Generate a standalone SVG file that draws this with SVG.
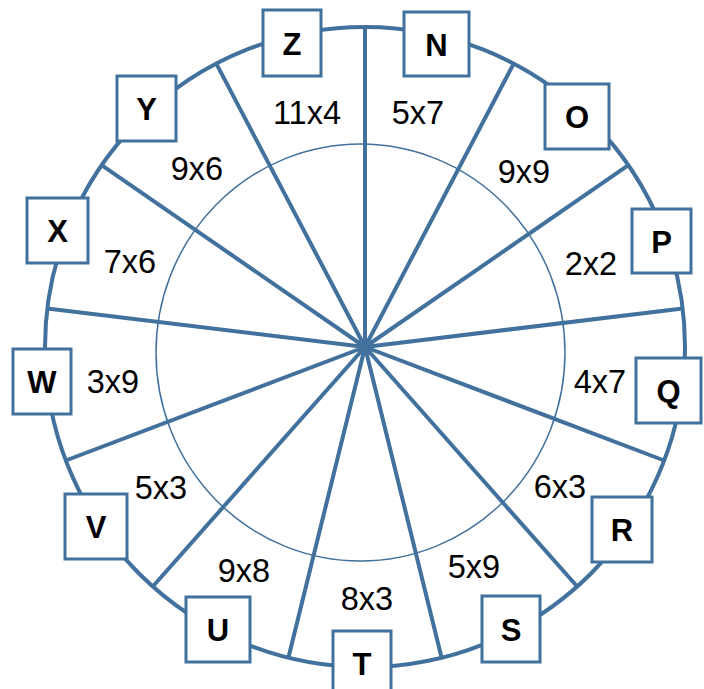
<svg xmlns="http://www.w3.org/2000/svg" width="704" height="689" viewBox="0 0 704 689">
<style>
.ln{stroke:#41719c;fill:none;stroke-linecap:butt}
.outer{stroke-width:4}
.spoke{stroke-width:4}
.inner{stroke-width:1.5}
.box{fill:#fff;stroke:#41719c;stroke-width:3}
.bl{font-family:"Liberation Sans",Arial,sans-serif;font-weight:bold;font-size:31px;fill:#000;text-anchor:middle}
.sl{font-family:"Liberation Sans",Arial,sans-serif;font-size:32.5px;fill:#000;text-anchor:middle}
</style>
<rect width="704" height="689" fill="#fff"/>
<g id="connectors">
<circle class="ln outer" cx="365" cy="347" r="320"/>
<ellipse class="ln inner" cx="360.5" cy="352.5" rx="204.5" ry="208.5"/>
<path class="ln spoke" d="M365,347L365,27M365,347L513.7,63.6M365,347L628.4,165.2M365,347L682.7,308.4M365,347L664.2,460.5M365,347L577.2,586.5M365,347L441.6,657.7M365,347L288.4,657.7M365,347L152.8,586.5M365,347L65.8,460.5M365,347L47.3,308.4M365,347L101.6,165.2M365,347L216.3,63.6"/>
</g>
<g id="sectors">
<text class="sl" x="307" y="124">11x4</text>
<text class="sl" x="418" y="124">5x7</text>
<text class="sl" x="524" y="183">9x9</text>
<text class="sl" x="591" y="275">2x2</text>
<text class="sl" x="600" y="393">4x7</text>
<text class="sl" x="560" y="498">6x3</text>
<text class="sl" x="474" y="578">5x9</text>
<text class="sl" x="367" y="610">8x3</text>
<text class="sl" x="244" y="582">9x8</text>
<text class="sl" x="161" y="499">5x3</text>
<text class="sl" x="113" y="393">3x9</text>
<text class="sl" x="130" y="273">7x6</text>
<text class="sl" x="197" y="180">9x6</text>
</g>
<g id="Z"><rect class="box" x="263" y="10" width="58" height="66"/><text class="bl" x="292" y="54.5">Z</text></g>
<g id="N"><rect class="box" x="404" y="12" width="65" height="64"/><text class="bl" x="436.5" y="55.5">N</text></g>
<g id="O"><rect class="box" x="545" y="84" width="64" height="65"/><text class="bl" x="577" y="128">O</text></g>
<g id="P"><rect class="box" x="632" y="209" width="59" height="64"/><text class="bl" x="661.5" y="252.5">P</text></g>
<g id="Q"><rect class="box" x="636" y="358" width="65" height="65"/><text class="bl" x="668.5" y="402">Q</text></g>
<g id="R"><rect class="box" x="592" y="497" width="60" height="65"/><text class="bl" x="622" y="541">R</text></g>
<g id="S"><rect class="box" x="482" y="596" width="58" height="66"/><text class="bl" x="511" y="640.5">S</text></g>
<g id="T"><rect class="box" x="333" y="631" width="58" height="65"/><text class="bl" x="362" y="675">T</text></g>
<g id="U"><rect class="box" x="186" y="597" width="64" height="65"/><text class="bl" x="218" y="641">U</text></g>
<g id="V"><rect class="box" x="65" y="494" width="62" height="65"/><text class="bl" x="96" y="538">V</text></g>
<g id="W"><rect class="box" x="13" y="349" width="58" height="65"/><text class="bl" x="42" y="393">W</text></g>
<g id="X"><rect class="box" x="27" y="198" width="61" height="65"/><text class="bl" x="57.5" y="242">X</text></g>
<g id="Y"><rect class="box" x="117" y="76" width="59" height="65"/><text class="bl" x="146.5" y="120">Y</text></g>
</svg>
